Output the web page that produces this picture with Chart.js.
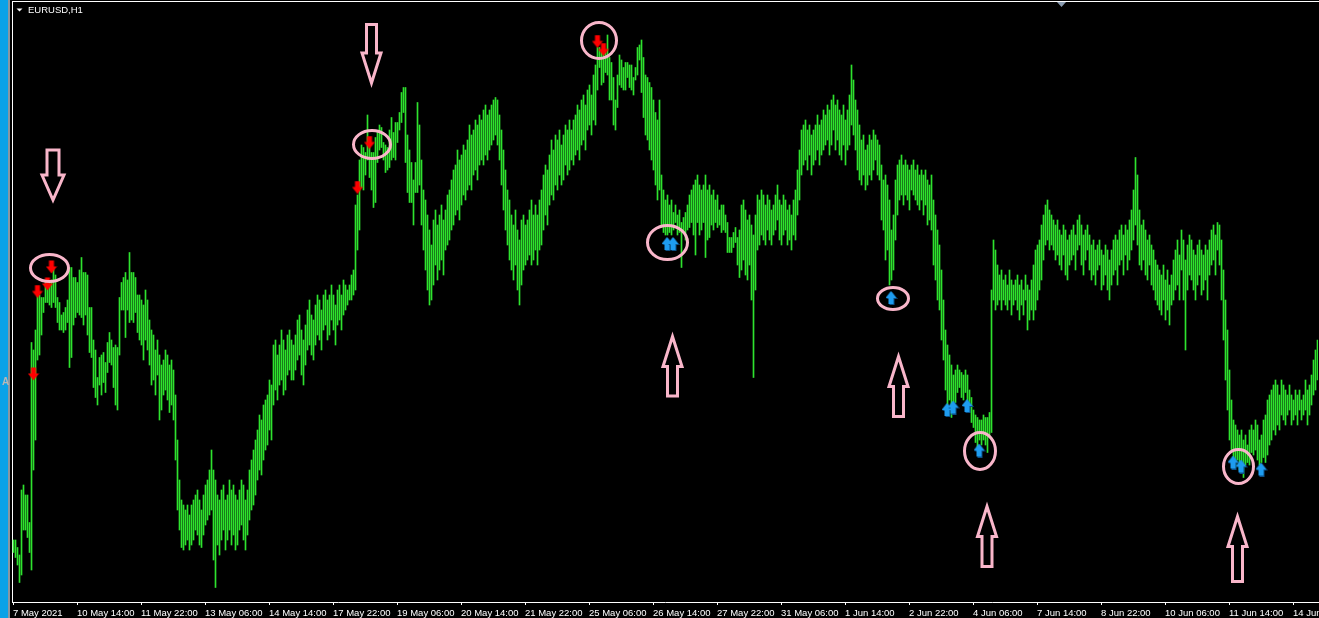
<!DOCTYPE html>
<html>
<head>
<meta charset="utf-8">
<title>EURUSD,H1</title>
<script src="https://cdn.jsdelivr.net/npm/chart.js@4.4.1/dist/chart.umd.min.js"></script>
<style>
  html, body { margin: 0; padding: 0; background: #000; overflow: hidden; }
  canvas { display: block; }
</style>
</head>
<body>
<canvas id="chart" width="1319" height="618"></canvas>
<script>
// ── Data: EURUSD H1, one bar per hour from 7 May 2021 06:00 ─────────────────
const tickLabels = ['7 May 2021', '10 May 14:00', '11 May 22:00', '13 May 06:00', '14 May 14:00',
  '17 May 22:00', '19 May 06:00', '20 May 14:00', '21 May 22:00', '25 May 06:00', '26 May 14:00',
  '27 May 22:00', '31 May 06:00', '1 Jun 14:00', '2 Jun 22:00', '4 Jun 06:00', '7 Jun 14:00',
  '8 Jun 22:00', '10 Jun 06:00', '11 Jun 14:00', '14 Jun 22:00'];
const barsPerTick = 32;

const highs = [
  1.2068, 1.2068, 1.2065, 1.2062, 1.2088, 1.2090, 1.2086, 1.2086, 1.2075, 1.2147,
  1.2144, 1.2152, 1.2168, 1.2166, 1.2165, 1.2165, 1.2172, 1.2171, 1.2171, 1.2172,
  1.2177, 1.2174, 1.2165, 1.2163, 1.2158, 1.2159, 1.2161, 1.2164, 1.2177, 1.2177,
  1.2173, 1.2173, 1.2171, 1.2176, 1.2181, 1.2175, 1.2175, 1.2174, 1.2161, 1.2161,
  1.2148, 1.2144, 1.2133, 1.2141, 1.2142, 1.2143, 1.2139, 1.2147, 1.2151, 1.2148,
  1.2145, 1.2146, 1.2145, 1.2165, 1.2171, 1.2173, 1.2175, 1.2172, 1.2183, 1.2175,
  1.2175, 1.2173, 1.2166, 1.2166, 1.2164, 1.2162, 1.2168, 1.2164, 1.2156, 1.2152,
  1.2150, 1.2144, 1.2148, 1.2142, 1.2138, 1.2140, 1.2144, 1.2142, 1.2138, 1.2140,
  1.2136, 1.2126, 1.2108, 1.2092, 1.2084, 1.2082, 1.2080, 1.2082, 1.2078, 1.2082,
  1.2084, 1.2086, 1.2088, 1.2084, 1.2080, 1.2086, 1.2090, 1.2092, 1.2096, 1.2104,
  1.2096, 1.2092, 1.2086, 1.2084, 1.2088, 1.2090, 1.2084, 1.2086, 1.2092, 1.2088,
  1.2090, 1.2086, 1.2084, 1.2088, 1.2092, 1.2090, 1.2084, 1.2088, 1.2096, 1.2100,
  1.2104, 1.2108, 1.2112, 1.2118, 1.2116, 1.2122, 1.2124, 1.2126, 1.2132, 1.2130,
  1.2146, 1.2148, 1.2142, 1.2146, 1.2152, 1.2148, 1.2144, 1.2150, 1.2152, 1.2148,
  1.2146, 1.2150, 1.2156, 1.2158, 1.2152, 1.2148, 1.2154, 1.2160, 1.2164, 1.2158,
  1.2156, 1.2162, 1.2166, 1.2164, 1.2160, 1.2166, 1.2168, 1.2164, 1.2166, 1.2170,
  1.2166, 1.2162, 1.2168, 1.2170, 1.2166, 1.2172, 1.2170, 1.2168, 1.2170, 1.2174,
  1.2176, 1.2202, 1.2206, 1.2220, 1.2226, 1.2225, 1.2223, 1.2238, 1.2225, 1.2223,
  1.2223, 1.2229, 1.2231, 1.2234, 1.2233, 1.2227, 1.2226, 1.2225, 1.2232, 1.2237,
  1.2231, 1.2235, 1.2235, 1.2239, 1.2247, 1.2249, 1.2249, 1.2230, 1.2224, 1.2219,
  1.2212, 1.2219, 1.2243, 1.2234, 1.2220, 1.2208, 1.2204, 1.2198, 1.2192, 1.2186,
  1.2196, 1.2200, 1.2194, 1.2198, 1.2202, 1.2196, 1.2200, 1.2206, 1.2208, 1.2212,
  1.2216, 1.2218, 1.2224, 1.2220, 1.2222, 1.2226, 1.2224, 1.2228, 1.2234, 1.2230,
  1.2232, 1.2236, 1.2234, 1.2238, 1.2236, 1.2240, 1.2242, 1.2238, 1.2240, 1.2242,
  1.2244, 1.2245, 1.2244, 1.2238, 1.2232, 1.2224, 1.2216, 1.2208, 1.2204, 1.2198,
  1.2194, 1.2200, 1.2192, 1.2188, 1.2196, 1.2198, 1.2194, 1.2196, 1.2200, 1.2204,
  1.2198, 1.2202, 1.2198, 1.2204, 1.2208, 1.2214, 1.2218, 1.2216, 1.2222, 1.2228,
  1.2224, 1.2230, 1.2228, 1.2232, 1.2226, 1.2230, 1.2234, 1.2232, 1.2236, 1.2232,
  1.2236, 1.2238, 1.2242, 1.2240, 1.2244, 1.2246, 1.2242, 1.2248, 1.2250, 1.2246,
  1.2254, 1.2258, 1.2265, 1.2265, 1.2264, 1.2263, 1.2263, 1.2270, 1.2261, 1.2259,
  1.2253, 1.2244, 1.2254, 1.2262, 1.2260, 1.2257, 1.2259, 1.2259, 1.2258, 1.2258,
  1.2253, 1.2257, 1.2265, 1.2266, 1.2268, 1.2261, 1.2254, 1.2253, 1.2251, 1.2249,
  1.2244, 1.2239, 1.2236, 1.2244, 1.2214, 1.2208, 1.2204, 1.2206, 1.2202, 1.2204,
  1.2199, 1.2202, 1.2198, 1.2200, 1.2195, 1.2197, 1.2199, 1.2202, 1.2206, 1.2208,
  1.2210, 1.2212, 1.2214, 1.2210, 1.2208, 1.2210, 1.2214, 1.2208, 1.2210, 1.2206,
  1.2208, 1.2204, 1.2206, 1.2200, 1.2202, 1.2202, 1.2198, 1.2195, 1.2189, 1.2189,
  1.2191, 1.2193, 1.2189, 1.2192, 1.2202, 1.2204, 1.2200, 1.2196, 1.2198, 1.2194,
  1.2190, 1.2198, 1.2206, 1.2204, 1.2208, 1.2206, 1.2202, 1.2206, 1.2204, 1.2200,
  1.2202, 1.2206, 1.2210, 1.2204, 1.2202, 1.2206, 1.2204, 1.2200, 1.2202, 1.2198,
  1.2204, 1.2208, 1.2216, 1.2224, 1.2232, 1.2234, 1.2236, 1.2232, 1.2234, 1.2230,
  1.2232, 1.2234, 1.2238, 1.2234, 1.2236, 1.2240, 1.2238, 1.2242, 1.2240, 1.2244,
  1.2246, 1.2242, 1.2244, 1.2240, 1.2238, 1.2242, 1.2236, 1.2240, 1.2246, 1.2258,
  1.2252, 1.2244, 1.2240, 1.2234, 1.2228, 1.2230, 1.2224, 1.2226, 1.2230, 1.2228,
  1.2232, 1.2230, 1.2228, 1.2226, 1.2218, 1.2212, 1.2214, 1.2210, 1.2204, 1.2192,
  1.2198, 1.2212, 1.2218, 1.2220, 1.2222, 1.2218, 1.2220, 1.2218, 1.2216, 1.2218,
  1.2220, 1.2216, 1.2218, 1.2214, 1.2216, 1.2214, 1.2216, 1.2212, 1.2210, 1.2214,
  1.2204, 1.2198, 1.2192, 1.2186, 1.2176, 1.2164, 1.2152, 1.2146, 1.2142, 1.2138,
  1.2134, 1.2136, 1.2138, 1.2136, 1.2135, 1.2134, 1.2136, 1.2134, 1.2128, 1.2125,
  1.2120, 1.2118, 1.2117, 1.2116, 1.2116, 1.2118, 1.2117, 1.2117, 1.2119, 1.2168,
  1.2188, 1.2184, 1.2178, 1.2174, 1.2176, 1.2172, 1.2174, 1.2170, 1.2176, 1.2172,
  1.2170, 1.2172, 1.2174, 1.2170, 1.2172, 1.2168, 1.2174, 1.2170, 1.2168, 1.2172,
  1.2178, 1.2184, 1.2186, 1.2188, 1.2194, 1.2198, 1.2202, 1.2204, 1.2200, 1.2198,
  1.2196, 1.2194, 1.2196, 1.2192, 1.2190, 1.2194, 1.2192, 1.2188, 1.2190, 1.2192,
  1.2194, 1.2190, 1.2196, 1.2198, 1.2194, 1.2190, 1.2192, 1.2194, 1.2190, 1.2186,
  1.2188, 1.2184, 1.2186, 1.2188, 1.2184, 1.2182, 1.2186, 1.2184, 1.2180, 1.2184,
  1.2188, 1.2190, 1.2188, 1.2192, 1.2194, 1.2190, 1.2194, 1.2192, 1.2196, 1.2200,
  1.2208, 1.2221, 1.2214, 1.2200, 1.2194, 1.2196, 1.2192, 1.2188, 1.2190, 1.2186,
  1.2184, 1.2180, 1.2178, 1.2176, 1.2174, 1.2178, 1.2172, 1.2176, 1.2170, 1.2174,
  1.2180, 1.2184, 1.2188, 1.2182, 1.2192, 1.2188, 1.2180, 1.2186, 1.2190, 1.2188,
  1.2184, 1.2182, 1.2186, 1.2188, 1.2184, 1.2182, 1.2186, 1.2184, 1.2188, 1.2192,
  1.2194, 1.2190, 1.2195, 1.2194, 1.2188, 1.2176, 1.2164, 1.2152, 1.2136, 1.2124,
  1.2116, 1.2114, 1.2112, 1.2110, 1.2112, 1.2108, 1.2110, 1.2106, 1.2112, 1.2114,
  1.2112, 1.2116, 1.2114, 1.2108, 1.2110, 1.2116, 1.2118, 1.2124, 1.2126, 1.2128,
  1.2130, 1.2132, 1.2130, 1.2126, 1.2132, 1.2130, 1.2128, 1.2126, 1.2130, 1.2126,
  1.2124, 1.2128, 1.2126, 1.2128, 1.2124, 1.2126, 1.2132, 1.2128, 1.2130, 1.2134,
  1.2140, 1.2144, 1.2148
];

const lows = [
  1.2063, 1.2061, 1.2058, 1.2051, 1.2054, 1.2072, 1.2072, 1.2069, 1.2063, 1.2056,
  1.2096, 1.2108, 1.2140, 1.2142, 1.2150, 1.2159, 1.2163, 1.2163, 1.2162, 1.2161,
  1.2163, 1.2161, 1.2155, 1.2152, 1.2152, 1.2151, 1.2152, 1.2155, 1.2137, 1.2141,
  1.2154, 1.2157, 1.2159, 1.2158, 1.2157, 1.2154, 1.2158, 1.2150, 1.2143, 1.2141,
  1.2129, 1.2125, 1.2122, 1.2130, 1.2126, 1.2131, 1.2127, 1.2135, 1.2139, 1.2138,
  1.2129, 1.2122, 1.2120, 1.2142, 1.2160, 1.2160, 1.2149, 1.2160, 1.2155, 1.2156,
  1.2155, 1.2159, 1.2151, 1.2148, 1.2146, 1.2140, 1.2148, 1.2144, 1.2138, 1.2130,
  1.2132, 1.2126, 1.2134, 1.2116, 1.2120, 1.2126, 1.2128, 1.2124, 1.2119, 1.2122,
  1.2116, 1.2100, 1.2080, 1.2072, 1.2065, 1.2064, 1.2066, 1.2068, 1.2064, 1.2066,
  1.2068, 1.2072, 1.2070, 1.2066, 1.2065, 1.2070, 1.2074, 1.2076, 1.2078, 1.2080,
  1.2060, 1.2049, 1.2066, 1.2062, 1.2068, 1.2072, 1.2064, 1.2068, 1.2072, 1.2066,
  1.2070, 1.2064, 1.2066, 1.2072, 1.2074, 1.2068, 1.2064, 1.2070, 1.2076, 1.2080,
  1.2082, 1.2086, 1.2092, 1.2096, 1.2094, 1.2100, 1.2104, 1.2106, 1.2112, 1.2108,
  1.2122, 1.2128, 1.2124, 1.2130, 1.2132, 1.2126, 1.2128, 1.2134, 1.2136, 1.2132,
  1.2132, 1.2136, 1.2140, 1.2142, 1.2134, 1.2130, 1.2138, 1.2144, 1.2146, 1.2142,
  1.2140, 1.2146, 1.2150, 1.2148, 1.2144, 1.2152, 1.2154, 1.2148, 1.2150, 1.2156,
  1.2152, 1.2146, 1.2154, 1.2156, 1.2152, 1.2158, 1.2160, 1.2162, 1.2164, 1.2164,
  1.2166, 1.2168, 1.2184, 1.2192, 1.2209, 1.2208, 1.2214, 1.2220, 1.2213, 1.2208,
  1.2201, 1.2203, 1.2219, 1.2224, 1.2225, 1.2220, 1.2215, 1.2216, 1.2217, 1.2220,
  1.2221, 1.2220, 1.2227, 1.2232, 1.2235, 1.2239, 1.2219, 1.2207, 1.2203, 1.2203,
  1.2194, 1.2207, 1.2207, 1.2210, 1.2194, 1.2184, 1.2176, 1.2168, 1.2162, 1.2164,
  1.2170, 1.2178, 1.2172, 1.2176, 1.2180, 1.2174, 1.2184, 1.2186, 1.2188, 1.2192,
  1.2194, 1.2198, 1.2200, 1.2196, 1.2202, 1.2206, 1.2204, 1.2208, 1.2210, 1.2208,
  1.2214, 1.2216, 1.2212, 1.2218, 1.2220, 1.2218, 1.2222, 1.2220, 1.2224, 1.2226,
  1.2228, 1.2230, 1.2226, 1.2220, 1.2210, 1.2200, 1.2192, 1.2186, 1.2180, 1.2176,
  1.2172, 1.2178, 1.2168, 1.2162, 1.2170, 1.2176, 1.2178, 1.2180, 1.2182, 1.2178,
  1.2180, 1.2184, 1.2178, 1.2184, 1.2186, 1.2192, 1.2198, 1.2194, 1.2202, 1.2206,
  1.2204, 1.2210, 1.2208, 1.2214, 1.2210, 1.2212, 1.2218, 1.2214, 1.2216, 1.2220,
  1.2218, 1.2222, 1.2224, 1.2220, 1.2226, 1.2228, 1.2224, 1.2232, 1.2234, 1.2230,
  1.2236, 1.2234, 1.2248, 1.2257, 1.2250, 1.2251, 1.2255, 1.2254, 1.2244, 1.2244,
  1.2234, 1.2232, 1.2241, 1.2250, 1.2249, 1.2248, 1.2248, 1.2253, 1.2249, 1.2248,
  1.2246, 1.2252, 1.2254, 1.2260, 1.2247, 1.2237, 1.2230, 1.2228, 1.2224, 1.2220,
  1.2216, 1.2210, 1.2204, 1.2208, 1.2194, 1.2191, 1.2190, 1.2190, 1.2191, 1.2190,
  1.2192, 1.2195, 1.2190, 1.2191, 1.2177, 1.2191, 1.2188, 1.2192, 1.2193, 1.2195,
  1.2190, 1.2182, 1.2195, 1.2190, 1.2192, 1.2195, 1.2181, 1.2188, 1.2189, 1.2194,
  1.2192, 1.2195, 1.2193, 1.2194, 1.2191, 1.2192, 1.2191, 1.2183, 1.2183, 1.2183,
  1.2185, 1.2187, 1.2178, 1.2173, 1.2176, 1.2180, 1.2174, 1.2172, 1.2178, 1.2164,
  1.2133, 1.2168, 1.2184, 1.2186, 1.2190, 1.2188, 1.2186, 1.2192, 1.2188, 1.2186,
  1.2190, 1.2192, 1.2196, 1.2188, 1.2186, 1.2190, 1.2192, 1.2186, 1.2188, 1.2184,
  1.2190, 1.2188, 1.2198, 1.2204, 1.2214, 1.2218, 1.2220, 1.2216, 1.2222, 1.2214,
  1.2218, 1.2220, 1.2224, 1.2218, 1.2222, 1.2224, 1.2226, 1.2228, 1.2222, 1.2226,
  1.2232, 1.2224, 1.2228, 1.2222, 1.2220, 1.2226, 1.2218, 1.2224, 1.2226, 1.2234,
  1.2230, 1.2224, 1.2216, 1.2212, 1.2210, 1.2214, 1.2208, 1.2210, 1.2214, 1.2212,
  1.2216, 1.2220, 1.2214, 1.2212, 1.2196, 1.2192, 1.2180, 1.2184, 1.2170, 1.2172,
  1.2176, 1.2188, 1.2198, 1.2204, 1.2206, 1.2202, 1.2206, 1.2204, 1.2200, 1.2208,
  1.2206, 1.2204, 1.2202, 1.2200, 1.2204, 1.2198, 1.2202, 1.2194, 1.2196, 1.2192,
  1.2178, 1.2172, 1.2164, 1.2160, 1.2148, 1.2140, 1.2128, 1.2120, 1.2124, 1.2117,
  1.2122, 1.2123, 1.2127, 1.2129, 1.2125, 1.2124, 1.2127, 1.2119, 1.2119, 1.2115,
  1.2113, 1.2107, 1.2105, 1.2108, 1.2106, 1.2108, 1.2106, 1.2103, 1.2109, 1.2111,
  1.2164, 1.2160, 1.2162, 1.2164, 1.2160, 1.2164, 1.2162, 1.2160, 1.2164, 1.2158,
  1.2162, 1.2164, 1.2160, 1.2156, 1.2162, 1.2158, 1.2164, 1.2152, 1.2156, 1.2160,
  1.2156, 1.2160, 1.2164, 1.2168, 1.2172, 1.2180, 1.2186, 1.2188, 1.2184, 1.2186,
  1.2184, 1.2180, 1.2182, 1.2178, 1.2176, 1.2182, 1.2174, 1.2172, 1.2178, 1.2180,
  1.2182, 1.2176, 1.2184, 1.2186, 1.2178, 1.2174, 1.2180, 1.2184, 1.2176, 1.2172,
  1.2174, 1.2170, 1.2176, 1.2178, 1.2168, 1.2170, 1.2174, 1.2168, 1.2164, 1.2170,
  1.2174, 1.2176, 1.2170, 1.2178, 1.2180, 1.2174, 1.2182, 1.2176, 1.2180, 1.2184,
  1.2188, 1.2194, 1.2186, 1.2178, 1.2176, 1.2180, 1.2174, 1.2172, 1.2178, 1.2170,
  1.2168, 1.2164, 1.2162, 1.2160, 1.2158, 1.2164, 1.2156, 1.2160, 1.2154, 1.2162,
  1.2164, 1.2168, 1.2170, 1.2164, 1.2176, 1.2164, 1.2144, 1.2168, 1.2174, 1.2172,
  1.2168, 1.2164, 1.2170, 1.2174, 1.2166, 1.2168, 1.2172, 1.2164, 1.2174, 1.2178,
  1.2180, 1.2174, 1.2184, 1.2178, 1.2164, 1.2148, 1.2132, 1.2120, 1.2108, 1.2104,
  1.2099, 1.2097, 1.2100, 1.2096, 1.2098, 1.2093, 1.2098, 1.2099, 1.2098, 1.2103,
  1.2102, 1.2104, 1.2100, 1.2098, 1.2099, 1.2101, 1.2099, 1.2102, 1.2106, 1.2108,
  1.2112, 1.2110, 1.2114, 1.2112, 1.2118, 1.2116, 1.2114, 1.2118, 1.2120, 1.2114,
  1.2116, 1.2118, 1.2114, 1.2120, 1.2116, 1.2118, 1.2120, 1.2114, 1.2118, 1.2122,
  1.2126, 1.2128, 1.2132
];

// indicator signals: [bar index, price]
const sellSignals = [[10, 1.21344], [12, 1.21674], [17, 1.21704], [19, 1.21772],
  [172, 1.2209], [178, 1.2227], [292, 1.22674], [295, 1.22642]];
const buySignals = [[327, 1.21864], [330, 1.21864], [439, 1.21648], [467, 1.2120],
  [470, 1.2121], [477, 1.21216], [483, 1.21038], [610, 1.2099], [614, 1.20974], [624, 1.20962]];

// hand-drawn pink marks: rings [index, price, rx, ry], arrows [index, tailPrice, tipPrice]
const rings = [[18, 1.21768, 19, 13.5], [179.25, 1.22262, 18.5, 14], [292.75, 1.22678, 17.5, 18],
  [327, 1.2187, 20, 17], [439.75, 1.21646, 15.5, 11], [483.25, 1.21036, 15.5, 18.5],
  [612.5, 1.20974, 15, 17]];
const pointers = [[19.75, 1.2224, 1.2204], [179, 1.22742, 1.22508], [329.5, 1.21256, 1.21494],
  [442.5, 1.21174, 1.21414], [486.75, 1.20574, 1.20814], [612, 1.20514, 1.20774]];

// ── Look ─────────────────────────────────────────────────────────────────────
const BAR_COLOR  = '#2ee22e';
const PINK       = '#f9b6ca';
const FONT       = '"Liberation Sans", Arial, sans-serif';
const FONT_SIZE  = 9.5;

function arrowIcon(dir) {
  const c = document.createElement('canvas');
  c.width = 12; c.height = 14;
  const g = c.getContext('2d');
  const down = [[3, 0], [8, 0], [8, 6], [11, 6], [5.5, 13], [0, 6], [3, 6]];
  const up   = [[5.5, 0], [11, 7], [8, 7], [8, 13], [3, 13], [3, 7], [0, 7]];
  const poly = (pts, dx, dy, col) => {
    g.beginPath();
    pts.forEach(([x, y], k) => k ? g.lineTo(x + dx, y + dy) : g.moveTo(x + dx, y + dy));
    g.closePath(); g.fillStyle = col; g.fill();
  };
  if (dir === 'down') {
    poly(down, 0.5, 0.5, '#ff0000');
  } else {
    poly(up, 1, 1, '#0b4f86');
    poly(up, 0, 0, '#1e9cf0');
  }
  return c;
}

// ── Frame, title, time labels and annotation layers ─────────────────────────
const terminalFrame = {
  id: 'terminalFrame',
  beforeDraw(chart) {
    const { ctx, width, height } = chart;
    ctx.save();
    ctx.fillStyle = '#000'; ctx.fillRect(0, 0, width, height);
    ctx.fillStyle = '#0aa2e8'; ctx.fillRect(0, 0, 8, height);
    ctx.fillStyle = '#8b96a0'; ctx.fillRect(8, 0, 2, height);
    ctx.fillStyle = '#fff';
    ctx.fillRect(12, 1, width - 12, 1);
    ctx.fillRect(12, 1, 1, chart.chartArea.bottom - 1);
    ctx.restore();
  },
  afterDraw(chart) {
    const { ctx, scales: { x } } = chart;
    ctx.save();
    ctx.fillStyle = '#fff';
    ctx.font = FONT_SIZE + 'px ' + FONT;
    ctx.textBaseline = 'alphabetic';
    // time labels sit just right of each tick mark
    x.ticks.forEach((t, k) => {
      ctx.fillText(tickLabels[k], Math.floor(x.getPixelForValue(t.value)), 616);
    });
    ctx.beginPath(); ctx.moveTo(16.5, 8.5); ctx.lineTo(22.5, 8.5); ctx.lineTo(19.5, 11.5); ctx.closePath(); ctx.fill();
    ctx.fillText('EURUSD,H1', 28, 13);
    ctx.fillStyle = '#8a9bb0';
    ctx.beginPath(); ctx.moveTo(1057, 2); ctx.lineTo(1066, 2); ctx.lineTo(1061.5, 7); ctx.closePath(); ctx.fill();
    ctx.fillStyle = '#b8b8b8';
    ctx.font = 'bold 10px ' + FONT;
    ctx.fillText('A', 2, 385);
    ctx.restore();
  }
};

const penMarks = {
  id: 'penMarks',
  afterDatasetsDraw(chart) {
    const { ctx, scales: { x, y } } = chart;
    ctx.save();
    ctx.strokeStyle = PINK;
    ctx.lineWidth = 3;
    ctx.lineJoin = 'miter';
    rings.forEach(([i, p, rx, ry]) => {
      ctx.beginPath();
      ctx.ellipse(x.getPixelForValue(i), y.getPixelForValue(p), rx, ry, 0, 0, Math.PI * 2);
      ctx.stroke();
    });
    pointers.forEach(([i, tailP, tipP], k) => {
      const cx = x.getPixelForValue(i);
      const tail = y.getPixelForValue(tailP);
      const tip = y.getPixelForValue(tipP);
      const dir = tip > tail ? 1 : -1;
      const sw = k === 0 ? 6 : 5, hw = k === 0 ? 11 : 9.5, hl = k === 0 ? 25 : 30;
      const neck = tip - dir * hl;
      ctx.beginPath();
      ctx.moveTo(cx - sw, tail); ctx.lineTo(cx + sw, tail);
      ctx.lineTo(cx + sw, neck); ctx.lineTo(cx + hw, neck);
      ctx.lineTo(cx, tip);
      ctx.lineTo(cx - hw, neck); ctx.lineTo(cx - sw, neck);
      ctx.closePath();
      ctx.stroke();
    });
    ctx.restore();
  }
};

// ── Chart ────────────────────────────────────────────────────────────────────
const bars = highs.map((h, i) => ({ x: i, y: [lows[i], h] }));
const toPoints = list => list.map(([x, y]) => ({ x, y }));

new Chart(document.getElementById('chart'), {
  type: 'bar',
  data: {
    datasets: [
      { type: 'bar', data: bars, backgroundColor: BAR_COLOR, barThickness: 1, borderWidth: 0, borderSkipped: false, order: 3 },
      { type: 'scatter', data: toPoints(sellSignals), pointStyle: arrowIcon('down'), pointRadius: 6, order: 1 },
      { type: 'scatter', data: toPoints(buySignals), pointStyle: arrowIcon('up'), pointRadius: 6, order: 1 }
    ]
  },
  options: {
    responsive: false,
    animation: false,
    devicePixelRatio: 1,
    events: [],
    layout: { autoPadding: false, padding: { left: 12, right: 1, top: 2, bottom: 0 } },
    plugins: { legend: { display: false }, tooltip: { enabled: false } },
    scales: {
      x: {
        type: 'linear',
        offset: false,
        min: -0.75,
        max: highs.length - 0.75,
        grid: { offset: false, drawOnChartArea: false, drawTicks: true, tickLength: 3, color: '#fff', tickColor: '#fff' },
        border: { display: true, color: '#fff', width: 1 },
        ticks: { display: false },
        afterBuildTicks: s => { s.ticks = tickLabels.map((_, k) => ({ value: k * barsPerTick })); },
        afterFit: s => { s.height = 16; s.paddingLeft = 0; s.paddingRight = 0; }
      },
      y: { display: false, min: 1.20432, max: 1.22832 }
    }
  },
  plugins: [terminalFrame, penMarks]
});
</script>
</body>
</html>
